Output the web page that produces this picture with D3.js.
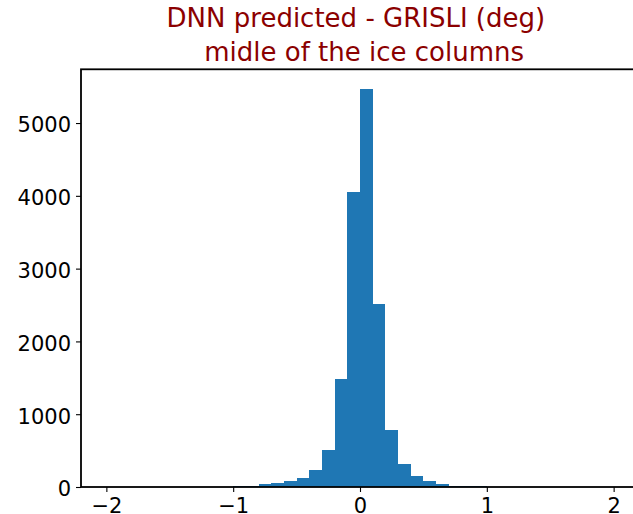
<!DOCTYPE html>
<html>
<head>
<meta charset="utf-8">
<script src="https://cdn.jsdelivr.net/npm/d3@7"></script>
<style>
  html, body { margin: 0; padding: 0; background: #fff; }
  svg { display: block; font-family: "DejaVu Sans", sans-serif; }
</style>
</head>
<body>
<svg id="chart" width="633" height="514"></svg>
<script>
// Histogram of DNN minus GRISLI temperature difference: 40 bins of width 0.1 over [-2, 2]
const binStart = -2;
const binWidth = 0.1;
const counts = [
  0, 0, 1, 0, 1, 1, 2, 2, 3, 5,        // -2.0 .. -1.1
  9, 20, 38, 56, 77, 123, 240, 513, 1478, 4055,   // -1.0 .. -0.1
  5465, 2514, 788, 320, 155, 78, 35, 20, 15, 7,   //  0.0 ..  0.9
  4, 2, 2, 1, 1, 0, 1, 0, 0, 0          //  1.0 ..  1.9
];
const xTicks = [-2, -1, 0, 1, 2];
const yTicks = [0, 1000, 2000, 3000, 4000, 5000];
const titleLines = ["DNN predicted - GRISLI (deg) ", " midle of the ice columns"];

const bins = counts.map((c, i) => ({
  x0: binStart + i * binWidth,
  x1: binStart + (i + 1) * binWidth,
  count: c
}));

const svg = d3.select("#chart");
const margin = { left: 81, top: 69.3, right: -6, bottom: 27 };
const W = 633, H = 514;
const plotW = W - margin.left - margin.right;
const plotH = H - margin.top - margin.bottom;

// matplotlib-style 5% padding around the data span
const xMin = binStart, xMax = binStart + counts.length * binWidth;
const pad = (xMax - xMin) * 0.05;
const x = d3.scaleLinear().domain([xMin - pad, xMax + pad]).range([0, plotW]);
const yMax = d3.max(counts) * 1.05;
const y = d3.scaleLinear().domain([0, yMax]).range([plotH, 0]);

const g = svg.append("g").attr("transform", `translate(${margin.left},${margin.top})`);

g.selectAll("rect.bar")
  .data(bins)
  .join("rect")
  .attr("class", "bar")
  .attr("x", d => x(d.x0))
  .attr("width", d => x(d.x1) - x(d.x0))
  .attr("y", d => y(d.count))
  .attr("height", d => plotH - y(d.count))
  .attr("fill", "#1f77b4")
  .attr("shape-rendering", "crispEdges");

const fmt = d3.format("d");

const xAxis = g.append("g")
  .attr("transform", `translate(0,${plotH})`)
  .call(d3.axisBottom(x).tickValues(xTicks).tickFormat(fmt).tickSize(5).tickPadding(6).tickSizeOuter(0));
const yAxis = g.append("g")
  .call(d3.axisLeft(y).tickValues(yTicks).tickFormat(fmt).tickSize(5).tickPadding(5).tickSizeOuter(0));

[xAxis, yAxis].forEach(a => {
  a.select(".domain").remove();
  a.selectAll("text").attr("font-family", "DejaVu Sans, sans-serif").attr("font-size", 21).attr("fill", "#000");
  a.selectAll("line").attr("stroke", "#000").attr("stroke-width", 1.1);
});
yAxis.selectAll("text").attr("dy", "0.42em");

// spines
g.append("rect")
  .attr("x", 0).attr("y", 0)
  .attr("width", plotW).attr("height", plotH)
  .attr("fill", "none")
  .attr("stroke", "#000")
  .attr("stroke-width", 1.8);

// title
const title = svg.append("text")
  .attr("text-anchor", "middle")
  .attr("fill", "#8b0000")
  .attr("font-size", 26)
  .style("white-space", "pre");
titleLines.forEach((t, i) => {
  title.append("tspan")
    .attr("x", margin.left + x(0))
    .attr("y", 27 + i * 34)
    .text(t);
});
</script>
</body>
</html>
